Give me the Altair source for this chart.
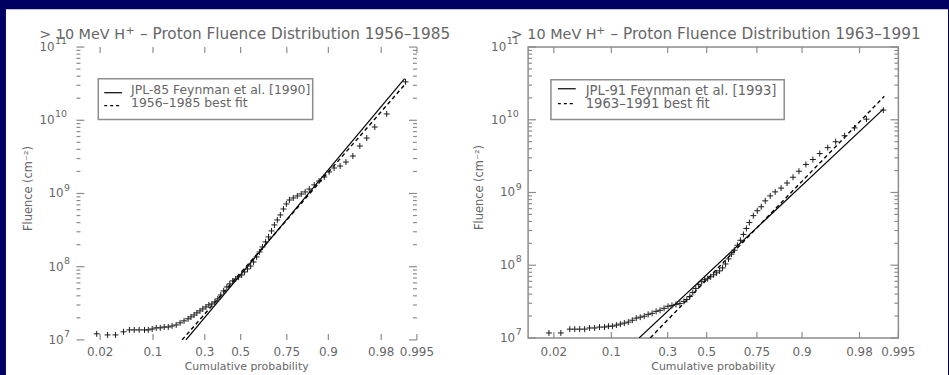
import altair as alt
import pandas as pd

FONT = "DejaVu Sans"
INK = "#666666"
FRAME = "#8c8c8c"
NAVY = "#000062"

# probability axis ticks
X_TICK_P = [0.02, 0.1, 0.3, 0.5, 0.75, 0.9, 0.98, 0.995]
X_TICK_LABELS = ["0.02", "0.1", "0.3", "0.5", "0.75", "0.9", "0.98", "0.995"]
# fluence axis ticks
Y_MAJOR = [1e7, 1e8, 1e9, 1e10, 1e11]
Y_EXP = ["7", "8", "9", "10", "11"]
Y_MINOR = [m * 10.0 ** k for k in range(7, 11) for m in range(2, 10)]

# 1956-1985 event fluences (cumulative probability, fluence cm^-2)
L_P = [0.0177, 0.0259, 0.0337, 0.0434, 0.052, 0.060, 0.069, 0.080, 0.0885, 0.098,
       0.1086, 0.120, 0.132, 0.145, 0.158, 0.173, 0.188, 0.204, 0.221, 0.234,
       0.248, 0.261, 0.276, 0.290, 0.306, 0.321, 0.337, 0.353, 0.369, 0.386,
       0.402, 0.420, 0.437, 0.454, 0.471, 0.488, 0.506, 0.523, 0.540, 0.558,
       0.575, 0.592, 0.609, 0.625, 0.642, 0.658, 0.674, 0.689, 0.704, 0.719,
       0.734, 0.748, 0.762, 0.779, 0.796, 0.812, 0.827, 0.842, 0.859, 0.874,
       0.889, 0.902, 0.914, 0.927, 0.938, 0.9495, 0.9592, 0.9673, 0.9750, 0.9836,
       0.9920]
L_F = [1.21e7, 1.17e7, 1.17e7, 1.29e7, 1.37e7, 1.37e7, 1.37e7, 1.37e7, 1.37e7, 1.41e7,
       1.46e7, 1.46e7, 1.50e7, 1.50e7, 1.55e7, 1.60e7, 1.71e7, 1.82e7, 1.94e7, 2.06e7,
       2.19e7, 2.34e7, 2.49e7, 2.65e7, 2.82e7, 3.01e7, 3.10e7, 3.30e7, 3.63e7, 4.11e7,
       4.67e7, 5.29e7, 5.82e7, 6.39e7, 6.80e7, 7.24e7, 7.71e7, 8.47e7, 9.31e7, 1.02e8,
       1.16e8, 1.36e8, 1.59e8, 1.86e8, 2.18e8, 2.55e8, 3.08e8, 3.72e8, 4.35e8, 5.09e8,
       6.14e8, 7.19e8, 8.15e8, 8.68e8, 9.25e8, 9.85e8, 1.05e9, 1.15e9, 1.31e9, 1.48e9,
       1.68e9, 1.97e9, 2.23e9, 2.37e9, 2.69e9, 3.25e9, 4.45e9, 5.72e9, 8.09e9, 1.22e10,
       3.35e10]
# lognormal lines (end points)
L_JPL_P = [0.212, 0.9917]
L_JPL_F = [1.0e7, 3.7e10]
L_FIT_P = [0.196, 0.9920]
L_FIT_F = [1.0e7, 3.15e10]

# 1963-1991 event fluences
R_P = [0.0170, 0.0250, 0.0329, 0.0381, 0.0439, 0.0505, 0.0578, 0.0660, 0.0749, 0.0849,
       0.0934, 0.1026, 0.1125, 0.1230, 0.1342, 0.1461, 0.1587, 0.1719, 0.1859, 0.2005,
       0.2157, 0.2317, 0.2483, 0.2654, 0.2833, 0.3015, 0.3203, 0.3398, 0.3594, 0.3795,
       0.3948, 0.4102, 0.4259, 0.4416, 0.4574, 0.4733, 0.4892, 0.5052, 0.5212, 0.5371,
       0.5530, 0.5688, 0.5845, 0.5999, 0.6153, 0.6305, 0.6455, 0.6603, 0.6748, 0.6891,
       0.7031, 0.7168, 0.7346, 0.7517, 0.7683, 0.7843, 0.8033, 0.8212, 0.8413, 0.8599,
       0.8770, 0.8925, 0.9088, 0.9232, 0.9357, 0.9481, 0.9585, 0.9681, 0.9765, 0.9841,
       0.9912]
R_F = [1.17e7, 1.17e7, 1.32e7, 1.32e7, 1.32e7, 1.32e7, 1.37e7, 1.37e7, 1.41e7, 1.41e7,
       1.45e7, 1.45e7, 1.50e7, 1.55e7, 1.60e7, 1.65e7, 1.75e7, 1.87e7, 1.93e7, 1.99e7,
       2.11e7, 2.18e7, 2.32e7, 2.40e7, 2.55e7, 2.72e7, 2.80e7, 2.89e7, 2.98e7, 3.18e7,
       3.38e7, 3.71e7, 4.20e7, 4.77e7, 5.40e7, 5.93e7, 6.31e7, 6.51e7, 6.93e7, 7.38e7,
       7.85e7, 8.36e7, 9.18e7, 1.04e8, 1.22e8, 1.42e8, 1.61e8, 1.88e8, 2.20e8, 2.65e8,
       3.20e8, 3.86e8, 4.80e8, 5.61e8, 6.36e8, 7.67e8, 8.97e8, 1.02e9, 1.15e9, 1.35e9,
       1.62e9, 1.96e9, 2.43e9, 2.84e9, 3.43e9, 4.14e9, 4.99e9, 6.03e9, 7.73e9, 1.02e10,
       1.36e10]
R_JPL_P = [0.182, 0.9912]
R_JPL_F = [1.0e7, 1.40e10]
R_FIT_P = [0.224, 0.9915]
R_FIT_F = [1.0e7, 2.1e10]

Z_DOMAIN = [-2.4, 2.576]
CROSS = "M-1,0L1,0M0,-1L0,1"
ONE = pd.DataFrame({"k": [0]})


def txt(x, y, s, size, align="left", baseline="alphabetic", angle=0, color=INK):
    return alt.Chart(ONE).mark_text(
        font=FONT, fontSize=size, color=color, align=align, baseline=baseline, angle=angle
    ).encode(x=alt.value(x), y=alt.value(y), text=alt.value(s))


def panel(c):
    W, H = c["w"], c["h"]
    X = alt.X("z:Q", scale=alt.Scale(domain=Z_DOMAIN, nice=False, zero=False), axis=None)
    Y = alt.Y("F:Q", scale=alt.Scale(type="log", domain=[1e7, 1e11], nice=False), axis=None)
    probit = {"z": "quantileNormal(datum.p)"}

    pts = pd.DataFrame({"p": c["p"], "F": c["F"]})
    jpl = pd.DataFrame({"p": c["jpl_p"], "F": c["jpl_f"]})
    fit = pd.DataFrame({"p": c["fit_p"], "F": c["fit_f"]})
    xt = pd.DataFrame({"p": X_TICK_P, "label": X_TICK_LABELS})
    ymaj = pd.DataFrame({"F": Y_MAJOR, "exp": Y_EXP})
    ymin = pd.DataFrame({"F": Y_MINOR})

    layers = []
    # white slide page; the navy page background stays visible along the top and left
    if "page" in c:
        pg = c["page"]
        layers.append(alt.Chart(ONE).mark_rect(fill="white", strokeWidth=0).encode(
            x=alt.value(pg[0]), x2=alt.value(pg[1]), y=alt.value(pg[2]), y2=alt.value(pg[3])))

    # frame ticks, pointing inward on all four sides
    tick = dict(color=FRAME, strokeWidth=1.2)
    xtc = alt.Chart(xt).transform_calculate(**probit)
    layers.append(xtc.mark_rule(**tick).encode(x=X, y=alt.value(H), y2=alt.value(H - 6)))
    layers.append(xtc.mark_rule(**tick).encode(x=X, y=alt.value(0), y2=alt.value(6)))
    layers.append(alt.Chart(ymaj).mark_rule(**tick).encode(y=Y, x=alt.value(0), x2=alt.value(8)))
    layers.append(alt.Chart(ymaj).mark_rule(**tick).encode(y=Y, x=alt.value(W), x2=alt.value(W - 8)))
    layers.append(alt.Chart(ymin).mark_rule(**tick).encode(y=Y, x=alt.value(0), x2=alt.value(4)))
    layers.append(alt.Chart(ymin).mark_rule(**tick).encode(y=Y, x=alt.value(W), x2=alt.value(W - 4)))

    # tick labels
    layers.append(xtc.mark_text(font=FONT, fontSize=12, color=INK, baseline="middle").encode(
        x=X, y=alt.value(H + c["xlab_dy"]), text="label:N"))
    for digits, bx in ((1, -13), (2, -22)):
        yl = alt.Chart(ymaj).transform_filter(f"length(datum.exp) == {digits}")
        layers.append(yl.mark_text(font=FONT, fontSize=12, color=INK, align="right",
                                   baseline="middle").encode(y=Y, x=alt.value(bx), text=alt.value("10")))
        layers.append(yl.mark_text(font=FONT, fontSize=9.5, color=INK, align="left",
                                   baseline="middle", dy=-6).encode(y=Y, x=alt.value(bx + 0.5), text="exp:N"))

    # fitted distributions and the event data
    layers.append(alt.Chart(jpl).transform_calculate(**probit).mark_line(
        color="black", strokeWidth=1.2, clip=True).encode(x=X, y=Y))
    layers.append(alt.Chart(fit).transform_calculate(**probit).mark_line(
        color="black", strokeWidth=1.4, strokeDash=[4, 3], clip=True).encode(x=X, y=Y))
    layers.append(alt.Chart(pts).transform_calculate(**probit).mark_point(
        shape=CROSS, size=36, filled=False, color="#1a1a1a", strokeWidth=1, opacity=1).encode(x=X, y=Y))

    # legend box
    lg = c["legend"]
    layers.append(alt.Chart(ONE).mark_rect(fillOpacity=0, stroke=FRAME, strokeWidth=1.5).encode(
        x=alt.value(lg["x0"]), x2=alt.value(lg["x1"]), y=alt.value(lg["y0"]), y2=alt.value(lg["y1"])))
    layers.append(alt.Chart(ONE).mark_rule(color="black", strokeWidth=1.2).encode(
        x=alt.value(lg["sx0"]), x2=alt.value(lg["sx1"]), y=alt.value(lg["ly1"])))
    layers.append(alt.Chart(ONE).mark_rule(color="black", strokeWidth=1.2, strokeDash=[3, 3]).encode(
        x=alt.value(lg["sx0"]), x2=alt.value(lg["sx1"]), y=alt.value(lg["ly2"])))
    layers.append(txt(lg["tx"], lg["ty1"], c["lab1"], lg["fs"]))
    layers.append(txt(lg["tx"], lg["ty2"], c["lab2"], lg["fs"]))

    # titles
    t = c["title"]
    layers.append(txt(t["a"], -8, "> 10 MeV H", 14.5, align="right"))
    layers.append(txt(t["plus"], -16, "+", 11, align="center", baseline="middle"))
    layers.append(txt(t["b"], -8, "\u2013 Proton Fluence Distribution " + c["years"], 15.4))
    layers.append(txt(-48, H / 2 - 5, "Fluence (cm\u207b\u00b2)", 11.5, align="center",
                      baseline="middle", angle=270))
    layers.append(txt(W / 2, H + c["xtitle_dy"], "Cumulative probability", 11, align="center"))

    return alt.layer(*layers).properties(width=W, height=H)


left = panel({
    "w": 343, "h": 295, "p": L_P, "F": L_F,
    "jpl_p": L_JPL_P, "jpl_f": L_JPL_F, "fit_p": L_FIT_P, "fit_f": L_FIT_F,
    "lab1": "JPL-85 Feynman et al. [1990]", "lab2": "1956\u20131985 best fit",
    "years": "1956\u20131985",
    "xlab_dy": 12, "xtitle_dy": 30,
    "legend": {"x0": 22, "x1": 238, "y0": 32, "y1": 73, "sx0": 28, "sx1": 46,
               "ly1": 46, "ly2": 59, "tx": 55, "ty1": 47, "ty2": 60, "fs": 12.5},
    "title": {"a": 49, "plus": 54, "b": 64},
    "page": (-71, 878, -38, 335),
})

right = panel({
    "w": 373, "h": 293, "p": R_P, "F": R_F,
    "jpl_p": R_JPL_P, "jpl_f": R_JPL_F, "fit_p": R_FIT_P, "fit_f": R_FIT_F,
    "lab1": "JPL-91 Feynman et al. [1993]", "lab2": "1963\u20131991 best fit",
    "years": "1963\u20131991",
    "xlab_dy": 14, "xtitle_dy": 32,
    "legend": {"x0": 23, "x1": 258, "y0": 33, "y1": 73, "sx0": 30, "sx1": 48,
               "ly1": 42, "ly2": 57, "tx": 58, "ty1": 48, "ty2": 61, "fs": 13.3},
    "title": {"a": 69, "plus": 73, "b": 83},
})

chart = alt.hconcat(left, right, spacing=112, bounds="flush").properties(
    padding={"left": 5, "top": 7, "right": 0, "bottom": 0}, background=NAVY
).configure_view(stroke=FRAME, strokeWidth=1.5)

chart.save("out.html", embed_options={"renderer": "svg", "actions": False})
